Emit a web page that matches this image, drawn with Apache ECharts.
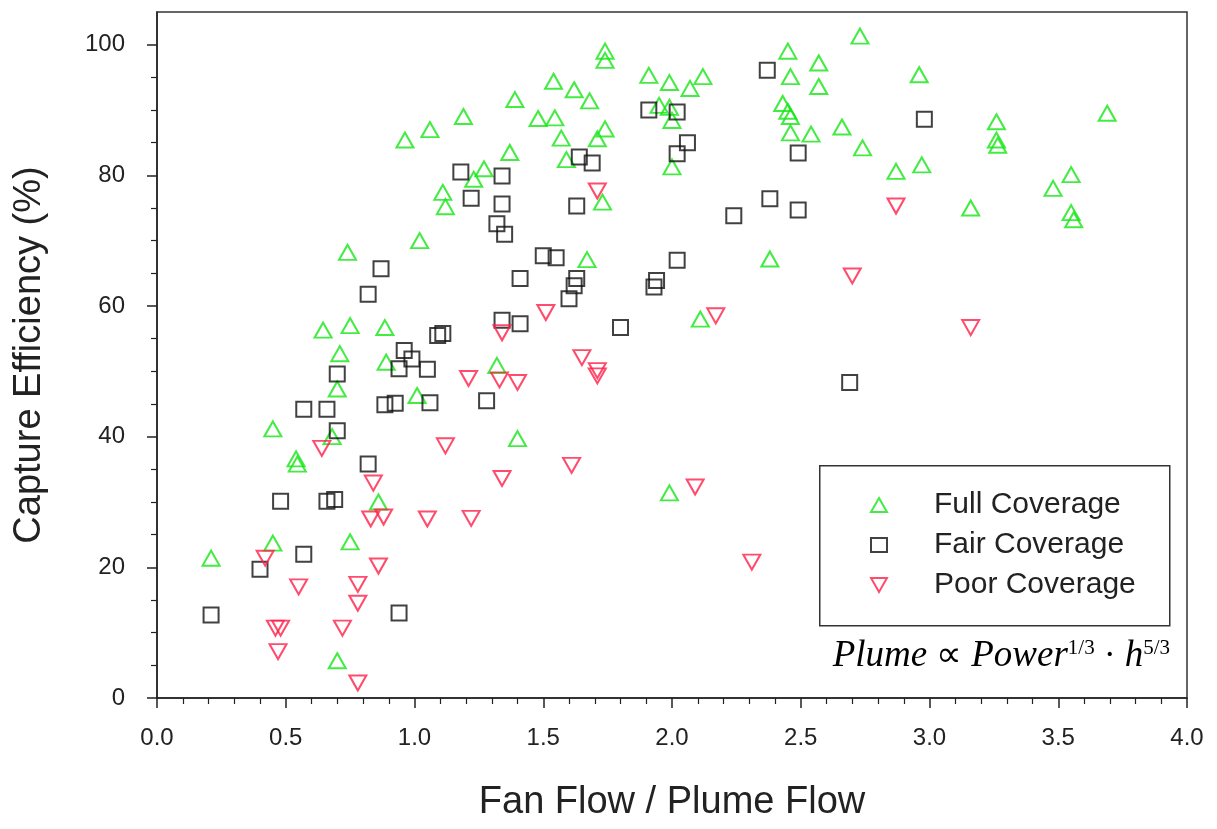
<!DOCTYPE html>
<html>
<head>
<meta charset="utf-8">
<script src="https://cdn.jsdelivr.net/npm/echarts@6/dist/echarts.min.js"></script>
<style>
html,body{margin:0;padding:0;background:#fff;}
#chart{width:1217px;height:829px;}
</style>
</head>
<body>
<div id="chart"></div>
<script>
const seriesNames = ['Full Coverage', 'Fair Coverage', 'Poor Coverage'];
const xTickValues = [0, 0.5, 1, 1.5, 2, 2.5, 3, 3.5, 4];
const yMajorTicks = [0, 20, 40, 60, 80, 100];
const yMinorTicks = [5, 10, 15, 25, 30, 35, 45, 50, 55, 65, 70, 75, 85, 90, 95];

const fullCoverage = [
  [0.21,21.4],[0.45,41.2],[0.45,23.7],[0.54,36.6],[0.545,35.8],[0.645,56.3],[0.68,40.0],
  [0.70,47.3],[0.71,52.7],[0.70,5.7],[0.74,68.2],[0.75,57.0],[0.75,23.9],[0.86,30.0],
  [0.885,56.7],[0.89,51.4],[0.963,85.4],[1.01,46.3],[1.02,70.0],[1.06,87.0],[1.11,77.4],
  [1.12,75.2],[1.19,89.0],[1.23,79.4],[1.27,81.0],[1.32,50.9],[1.37,83.5],[1.39,91.6],
  [1.40,39.7],[1.48,88.7],[1.54,94.4],[1.545,88.8],[1.57,85.7],[1.59,82.4],[1.62,93.1],
  [1.67,67.1],[1.68,91.4],[1.71,85.6],[1.73,75.9],[1.74,87.1],[1.74,99.0],[1.74,97.6],
  [1.91,95.3],[1.95,90.7],[1.99,94.2],[1.99,90.4],[1.99,31.4],[2.00,88.4],[2.00,81.3],
  [2.07,93.3],[2.11,58.0],[2.12,95.1],[2.38,67.2],[2.43,91.0],[2.45,99.0],[2.45,89.8],
  [2.46,89.0],[2.46,95.1],[2.46,86.5],[2.54,86.3],[2.57,97.2],[2.57,93.6],[2.66,87.4],
  [2.73,101.3],[2.74,84.2],[2.87,80.6],[2.96,95.4],[2.97,81.6],[3.16,75.0],[3.26,88.2],
  [3.26,85.4],[3.265,84.6],[3.48,78.0],[3.55,80.1],[3.55,74.3],[3.56,73.2],[3.69,89.5]
];
const fairCoverage = [
  [0.21,12.7],[0.40,19.7],[0.48,30.1],[0.57,22.0],[0.57,44.2],[0.66,44.2],[0.66,30.1],
  [0.69,30.4],[0.70,49.6],[0.70,40.9],[0.82,61.8],[0.82,35.8],[0.87,65.7],[0.885,44.9],
  [0.925,45.1],[0.94,50.4],[0.94,13.0],[0.96,53.2],[0.99,51.9],[1.05,50.3],[1.06,45.2],
  [1.09,55.5],[1.11,55.8],[1.18,80.5],[1.22,76.5],[1.28,45.5],[1.32,72.6],[1.34,79.9],
  [1.34,75.6],[1.34,57.8],[1.35,71.0],[1.41,64.2],[1.41,57.3],[1.50,67.7],[1.55,67.4],
  [1.60,61.1],[1.62,63.1],[1.63,64.2],[1.63,75.3],[1.64,82.8],[1.69,81.9],[1.80,56.7],
  [1.91,90.0],[1.93,62.9],[1.94,63.9],[2.02,89.7],[2.02,83.3],[2.02,67.0],[2.06,85.0],
  [2.24,73.8],[2.37,96.1],[2.38,76.4],[2.49,83.4],[2.49,74.7],[2.69,48.3],[2.98,88.6]
];
const poorCoverage = [
  [0.42,21.4],[0.46,10.7],[0.48,10.7],[0.47,7.1],[0.55,17.0],[0.64,38.2],[0.72,10.7],
  [0.78,17.4],[0.78,14.5],[0.78,2.3],[0.83,27.4],[0.84,32.9],[0.86,20.2],[0.88,27.7],
  [1.05,27.4],[1.12,38.6],[1.21,48.9],[1.22,27.5],[1.33,48.7],[1.34,55.9],[1.34,33.6],
  [1.40,48.3],[1.51,59.0],[1.61,35.6],[1.65,52.1],[1.71,77.6],[1.71,50.1],[1.71,49.3],
  [2.09,32.3],[2.17,58.5],[2.31,20.8],[2.70,64.6],[2.87,75.3],[3.16,56.7]
];

const GREEN = '#14e614', BLACK = '#111111', RED = '#ff1f48';
const TXT = '#222222';

const chart = echarts.init(document.getElementById('chart'), null, {renderer: 'canvas'});
const option = {
  backgroundColor: '#ffffff',
  animation: false,
  grid: {
    left: 157, right: 30, top: 12, bottom: 131,
    show: true, borderColor: '#333', borderWidth: 1.5, backgroundColor: 'transparent'
  },
  xAxis: {
    type: 'value', min: 0, max: 4, interval: 0.5,
    name: 'Fan Flow / Plume Flow', nameLocation: 'middle', nameGap: 86,
    nameTextStyle: {fontFamily: 'Liberation Sans', fontSize: 38, color: TXT},
    axisLine: {show: true, lineStyle: {color: '#222', width: 1.5}},
    axisTick: {show: true, inside: false, length: 10, lineStyle: {color: '#222', width: 1.5}},
    minorTick: {show: true, splitNumber: 5, length: 6, lineStyle: {color: '#222', width: 1.2}},
    splitLine: {show: false},
    axisLabel: {
      margin: 28, fontFamily: 'Liberation Sans', fontSize: 24, color: TXT,
      formatter: v => xTickValues.indexOf(v) >= 0 ? v.toFixed(1) : ''
    }
  },
  yAxis: [{
    type: 'value', min: 0, max: 105,
    name: 'Capture Efficiency (%)', nameLocation: 'middle', nameGap: 108,
    nameTextStyle: {fontFamily: 'Liberation Sans', fontSize: 38, color: TXT},
    axisLine: {show: true, lineStyle: {color: '#222', width: 1.5}},
    axisTick: {show: true, inside: false, length: 10, customValues: yMajorTicks, lineStyle: {color: '#222', width: 1.5}},
    splitLine: {show: false},
    axisLabel: {
      customValues: yMajorTicks, margin: 32,
      fontFamily: 'Liberation Sans', fontSize: 24, color: TXT
    }
  }, {
    type: 'value', min: 0, max: 105, position: 'left',
    axisLine: {show: false},
    axisTick: {show: true, inside: false, length: 6, customValues: yMinorTicks, lineStyle: {color: '#222', width: 1.2}},
    axisLabel: {show: false},
    splitLine: {show: false}
  }],
  legend: {
    orient: 'vertical', left: 870, top: 490, padding: 0,
    itemWidth: 16, itemHeight: 14, itemGap: 10,
    textStyle: {fontFamily: 'Liberation Sans', fontSize: 30, lineHeight: 30, color: TXT, padding: [0, 0, 0, 42]},
    data: [
      {name: seriesNames[0]},
      {name: seriesNames[1]},
      {name: seriesNames[2], icon: 'path://M0,0L20,0L10,17.6Z'}
    ]
  },
  graphic: [{
    type: 'rect', left: 819, top: 465, silent: true,
    shape: {width: 350, height: 160},
    style: {fill: 'transparent', stroke: '#333', lineWidth: 1.5}
  }, {
    type: 'text', right: 47, top: 638, silent: true,
    style: {
      text: '{i|Plume}{r| \u221D }{i|Power}{s|1/3}{r| \u00B7 }{i|h}{s|5/3}',
      rich: {
        i: {fontFamily: 'Liberation Serif', fontStyle: 'italic', fontSize: 37, color: TXT},
        r: {fontFamily: 'Liberation Serif', fontSize: 36, color: TXT},
        s: {fontFamily: 'Liberation Serif', fontSize: 21, color: TXT, verticalAlign: 'top', lineHeight: 21}
      }
    }
  }],
  series: [{
    name: seriesNames[0], type: 'scatter', data: fullCoverage,
    symbol: 'triangle', symbolSize: [17, 15],
    itemStyle: {color: 'transparent', borderColor: GREEN, borderWidth: 2}
  }, {
    name: seriesNames[1], type: 'scatter', data: fairCoverage,
    symbol: 'rect', symbolSize: 15,
    itemStyle: {color: 'transparent', borderColor: BLACK, borderWidth: 2}
  }, {
    name: seriesNames[2], type: 'scatter', data: poorCoverage,
    symbol: 'triangle', symbolSize: [17, 15], symbolRotate: 180,
    itemStyle: {color: 'transparent', borderColor: RED, borderWidth: 2}
  }]
};
chart.setOption(option);
</script>
</body>
</html>
